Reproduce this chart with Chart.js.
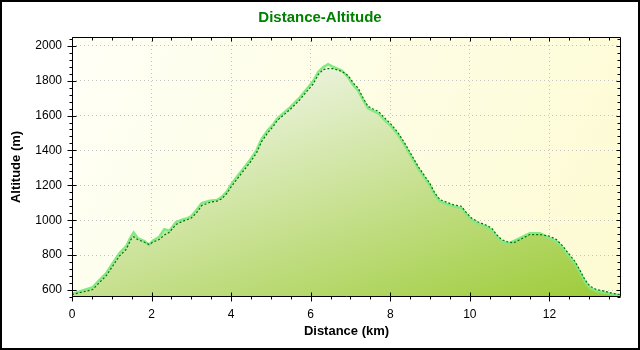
<!DOCTYPE html>
<html>
<head>
<meta charset="utf-8">
<title>Distance-Altitude</title>
<script src="https://cdn.jsdelivr.net/npm/chart.js@4/dist/chart.umd.min.js"></script>
<style>
  html, body { margin: 0; padding: 0; background: #fff; }
  canvas { display: block; }
</style>
</head>
<body>
<canvas id="profile" width="640" height="350"></canvas>
<script>
// track profile: distance in km, altitude in m
const distance = [
	0.0, 0.35, 0.52, 0.68, 0.85, 1.02, 1.19, 1.36, 1.48, 1.55,
	1.65, 1.82, 1.94, 2.03, 2.19, 2.32, 2.45, 2.61, 2.78, 2.91,
	3.0, 3.13, 3.26, 3.47, 3.64, 3.76, 3.89, 4.01, 4.14, 4.30,
	4.47, 4.64, 4.77, 4.93, 5.06, 5.16, 5.48, 5.73, 5.90, 6.06,
	6.19, 6.31, 6.44, 6.57, 6.78, 6.94, 7.07, 7.19, 7.32, 7.44,
	7.57, 7.70, 7.86, 8.03, 8.20, 8.36, 8.53, 8.70, 8.87, 8.99,
	9.12, 9.25, 9.41, 9.58, 9.79, 9.92, 10.04, 10.21, 10.38, 10.55,
	10.67, 10.80, 10.96, 11.10, 11.26, 11.51, 11.76, 12.01, 12.18, 12.34,
	12.47, 12.64, 12.76, 12.89, 13.02, 13.18, 13.39, 13.60, 13.77,
];

// smoothed altitude (dark line)
const altitude = [
	574, 593, 603, 641, 679, 736, 794, 832, 889, 905,
	889, 874, 861, 874, 889, 915, 931, 975, 994, 1004,
	1013, 1042, 1084, 1103, 1109, 1122, 1153, 1194, 1233, 1280,
	1329, 1386, 1452, 1504, 1538, 1572, 1634, 1691, 1738, 1780,
	1834, 1863, 1869, 1869, 1853, 1830, 1786, 1758, 1700, 1653,
	1637, 1624, 1586, 1548, 1500, 1443, 1376, 1309, 1252, 1213,
	1156, 1118, 1104, 1089, 1080, 1041, 1013, 990, 975, 955,
	918, 889, 875, 870, 889, 918, 918, 908, 889, 851,
	813, 765, 717, 660, 622, 603, 593, 580, 574,
];

// raw GPS altitude (light line + filled area)
const rawAltitude = [
	578, 604, 616, 656, 694, 752, 810, 850, 904, 930,
	898, 880, 858, 882, 904, 948, 940, 988, 1004, 1012,
	1024, 1058, 1098, 1112, 1116, 1132, 1164, 1208, 1248, 1294,
	1344, 1402, 1468, 1518, 1550, 1582, 1646, 1704, 1752, 1796,
	1850, 1876, 1894, 1878, 1858, 1820, 1774, 1744, 1688, 1642,
	1626, 1612, 1574, 1536, 1488, 1430, 1364, 1298, 1240, 1202,
	1146, 1108, 1094, 1080, 1070, 1032, 1004, 980, 966, 944,
	908, 880, 866, 880, 898, 926, 926, 898, 878, 840,
	802, 754, 706, 648, 612, 594, 586, 575, 571,
];

const FONT = 'Arial, "Liberation Sans", sans-serif';

function toPoints(ys) {
	return distance.map((d, i) => ({ x: d, y: ys[i] }));
}

function isMultiple(v, step) {
	return Math.abs(v / step - Math.round(v / step)) < 1e-6;
}

function areaGradient(context) {
	const { ctx, chartArea } = context.chart;
	if (!chartArea) return null;
	const { left, top } = chartArea;
	const g = ctx.createLinearGradient(left + 24, top + 71, left + 132, top + 398);
	g.addColorStop(0, '#f2f6ea');
	g.addColorStop(1, '#9ccb36');
	return g;
}

// plot background, outer frame, axis box and tick marks
const frame = {
	id: 'frame',
	beforeDraw(chart) {
		const { ctx, chartArea: a } = chart;
		ctx.save();
		ctx.fillStyle = '#fff';
		ctx.fillRect(0, 0, chart.width, chart.height);
		const g = ctx.createLinearGradient(a.left, a.top, a.right, a.bottom);
		g.addColorStop(0, '#fffff6');
		g.addColorStop(1, '#fdfbd2');
		ctx.fillStyle = g;
		ctx.fillRect(a.left, a.top, a.right - a.left, a.bottom - a.top);
		ctx.restore();
	},
	afterDraw(chart) {
		const { ctx, chartArea: a, scales } = chart;
		const x = scales.x, y = scales.y;
		const L = Math.round(a.left) + 0.5, R = Math.round(a.right) - 0.5;
		const T = Math.round(a.top) + 0.5, B = Math.round(a.bottom) - 0.5;
		ctx.save();
		ctx.strokeStyle = '#000';
		ctx.lineWidth = 1;
		ctx.beginPath();
		ctx.rect(L, T, R - L, B - T);
		for (let v = 0; v <= x.max + 1e-9; v += 0.5) {
			const px = Math.round(x.getPixelForValue(v)) + 0.5;
			const major = isMultiple(v, 2);
			ctx.moveTo(px, major ? B - 4 : B);
			ctx.lineTo(px, major ? B + 5 : B + 3);
			ctx.moveTo(px, T);
			ctx.lineTo(px, T + (major ? 4 : 3));
		}
		for (let v = Math.ceil(y.min / 40) * 40; v <= y.max; v += 40) {
			const py = Math.round(y.getPixelForValue(v)) + 0.5;
			const major = isMultiple(v, 200);
			ctx.moveTo(major ? L - 5 : L - 3, py);
			ctx.lineTo(major ? L + 4 : L, py);
			ctx.moveTo(R, py);
			ctx.lineTo(R - (major ? 4 : 3), py);
		}
		ctx.stroke();
		ctx.lineWidth = 2;
		ctx.strokeRect(1, 1, chart.width - 2, chart.height - 2);
		ctx.restore();
	},
};

new Chart(document.getElementById('profile'), {
	type: 'line',
	data: {
		datasets: [
			{
				label: 'Altitude',
				data: toPoints(altitude),
				borderColor: '#007400',
				borderWidth: 1.2,
				borderDash: [2, 2],
				pointRadius: 0,
				fill: false,
				tension: 0,
			},
			{
				label: 'Altitude (raw)',
				data: toPoints(rawAltitude),
				borderColor: '#84e884',
				borderWidth: 2.5,
				backgroundColor: areaGradient,
				pointRadius: 0,
				fill: 'start',
				tension: 0,
			},
		],
	},
	options: {
		responsive: false,
		animation: false,
		devicePixelRatio: 1,
		layout: { padding: 0 },
		plugins: {
			legend: { display: false },
			tooltip: { enabled: false },
			title: {
				display: true,
				text: 'Distance-Altitude',
				color: '#008000',
				font: { family: FONT, size: 15, weight: 'bold' },
				padding: { top: 9, bottom: 10 },
			},
		},
		scales: {
			x: {
				type: 'linear',
				min: 0,
				max: 13.8,
				afterFit(scale) { scale.height = 53; },
				ticks: {
					stepSize: 2,
					includeBounds: false,
					autoSkip: false,
					maxRotation: 0,
					padding: 10,
					color: '#000',
					font: { family: FONT, size: 12 },
					callback: (v) => String(v),
				},
				grid: {
					drawTicks: false,
					lineWidth: 1,
					color: (c) => (c.tick && c.tick.value > 0 ? '#c4c4c4' : 'transparent'),
				},
				border: { display: false, dash: [1, 3] },
				title: {
					display: true,
					text: 'Distance (km)',
					color: '#000',
					font: { family: FONT, size: 13, weight: 'bold' },
					padding: { top: 0, bottom: 11 },
				},
			},
			y: {
				min: 560,
				max: 2050,
				afterFit(scale) { scale.width = 72; },
				ticks: {
					stepSize: 200,
					includeBounds: false,
					autoSkip: false,
					padding: 10,
					color: '#000',
					font: { family: FONT, size: 12 },
					callback: (v) => String(v),
				},
				grid: {
					drawTicks: false,
					lineWidth: 1,
					color: '#c4c4c4',
				},
				border: { display: false, dash: [1, 3] },
				title: {
					display: true,
					text: 'Altitude (m)',
					color: '#000',
					font: { family: FONT, size: 13, weight: 'bold' },
					padding: { top: 9, bottom: 0 },
				},
			},
			// empty right-hand margin so the title centres on the full width
			margin: {
				type: 'linear',
				position: 'right',
				display: true,
				afterFit(scale) { scale.width = 19; },
				ticks: { display: false },
				grid: { display: false, drawOnChartArea: false },
				border: { display: false },
			},
		},
	},
	plugins: [frame],
});
</script>
</body>
</html>
